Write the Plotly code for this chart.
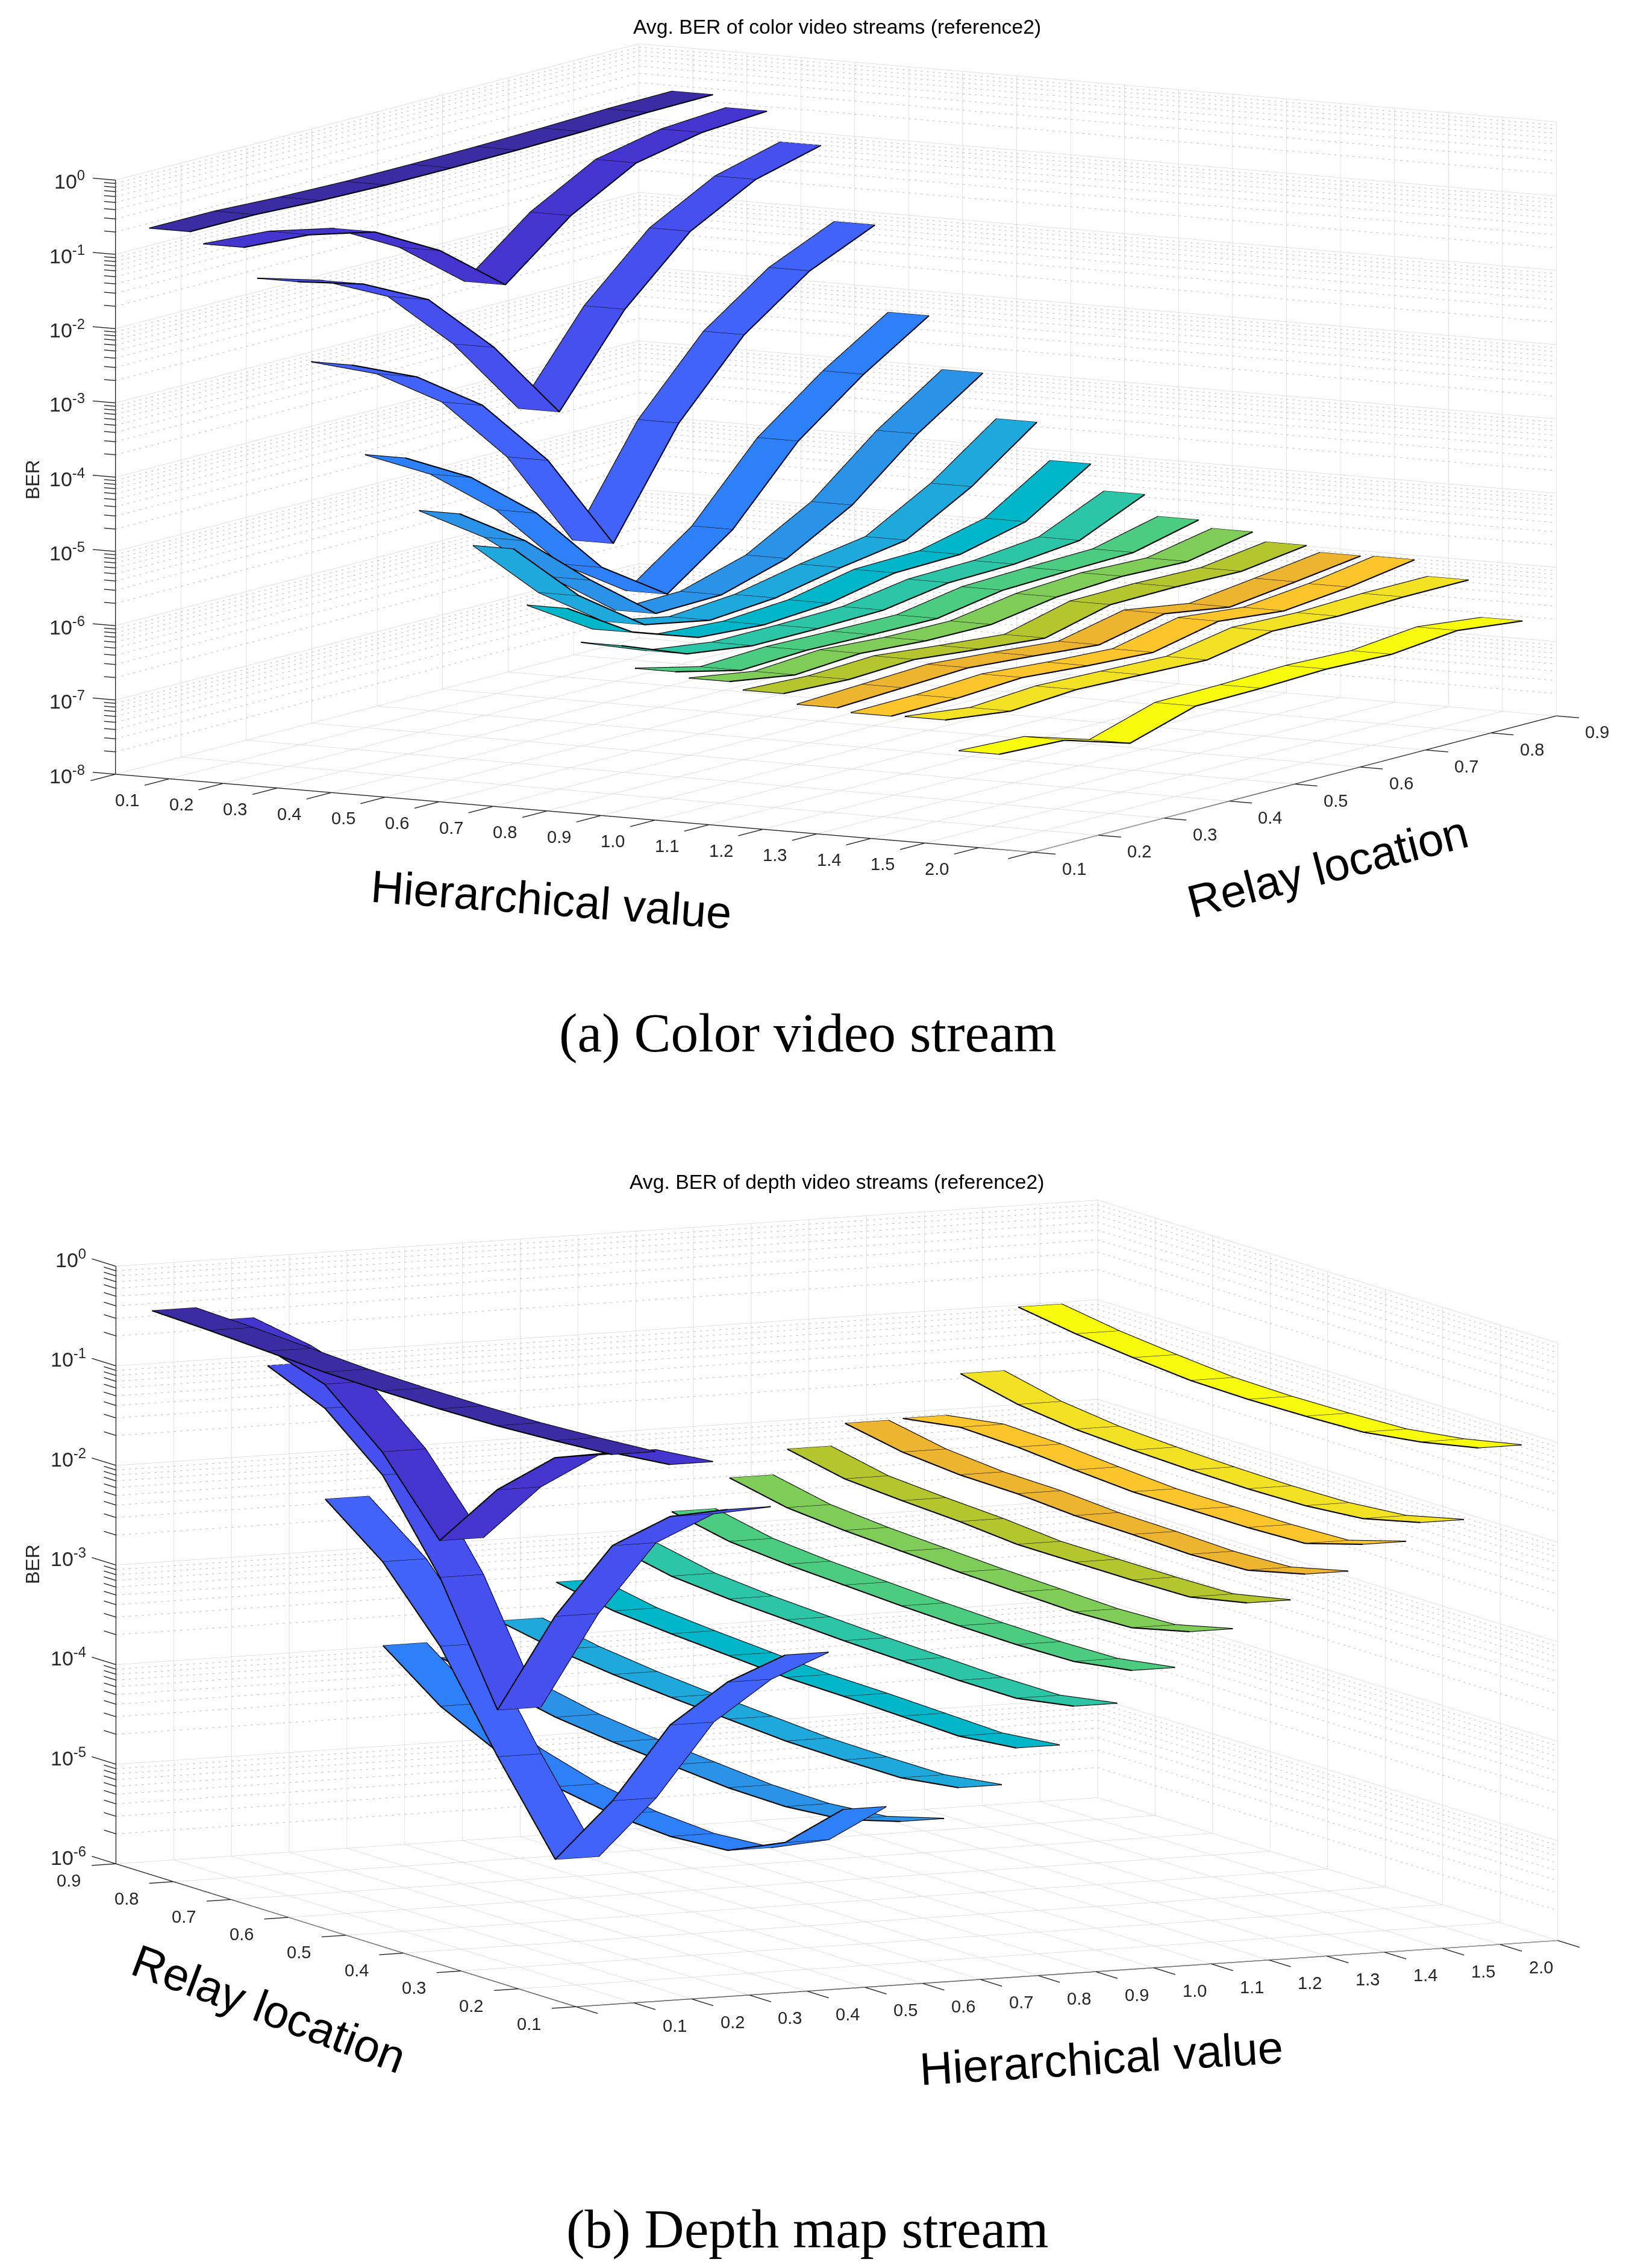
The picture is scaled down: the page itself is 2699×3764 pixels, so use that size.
import plotly.graph_objects as go

W, H = 2699, 3764

# positions on the axes: ribbons sit at 1..16, relay points at 1..9
hier_ticks = list(range(0, 18))
hier_labels = ['', '0.1', '0.2', '0.3', '0.4', '0.5', '0.6', '0.7', '0.8', '0.9', '1.0',
               '1.1', '1.2', '1.3', '1.4', '1.5', '2.0', '']
relay_ticks = [1, 2, 3, 4, 5, 6, 7, 8, 9]
relay_labels = ['0.1', '0.2', '0.3', '0.4', '0.5', '0.6', '0.7', '0.8', '0.9']

ribbon_colors = ['#3b2ca4', '#4535cf', '#4550ef', '#4263fa', '#2e80f8', '#2a93e8', '#1ea8dc', '#00b6c8',
                 '#2cc5a8', '#4ccc80', '#80cc58', '#b5c52e', '#edb42f', '#fcc52c', '#f3e123', '#f9fb0e']

# log10(BER), one row per hierarchical value, relay location 0.1 -> 0.9
color_log_ber = [
    [-0.61, -0.61, -0.65, -0.67, -0.67, -0.66, -0.64, -0.61, -0.60],
    [-0.76, -0.82, -1.01, -1.49, -2.18, -1.48, -1.00, -0.82, -0.76],
    [-1.16, -1.42, -1.86, -2.73, -3.83, -2.68, -1.86, -1.39, -1.16],
    [-2.22, -2.61, -3.22, -4.19, -5.54, -4.15, -3.19, -2.56, -2.17],
    [-3.41, -3.90, -4.61, -5.57, -6.16, -5.52, -4.56, -3.89, -3.33],
    [-4.10, -4.69, -5.45, -6.13, -6.11, -5.85, -5.36, -4.63, -4.04],
    [-4.51, -5.37, -5.99, -6.16, -6.09, -5.91, -5.77, -5.28, -4.64],
    [-5.25, -5.80, -6.10, -6.16, -6.10, -5.92, -5.90, -5.69, -5.14],
    [-5.69, -6.03, -6.15, -6.15, -6.13, -5.99, -5.97, -5.88, -5.49],
    [-5.98, -6.19, -6.15, -6.17, -6.18, -6.03, -6.00, -5.98, -5.77],
    [-6.05, -6.19, -6.13, -6.19, -6.20, -6.06, -6.01, -6.04, -5.87],
    [-6.15, -6.19, -6.15, -6.24, -6.32, -6.10, -6.09, -6.11, -5.99],
    [-6.28, -6.24, -6.20, -6.27, -6.35, -6.16, -6.30, -6.19, -6.07],
    [-6.33, -6.32, -6.27, -6.34, -6.39, -6.20, -6.29, -6.20, -6.06],
    [-6.32, -6.43, -6.37, -6.40, -6.43, -6.27, -6.30, -6.27, -6.27],
    [-6.72, -6.76, -7.03, -6.76, -6.75, -6.72, -6.75, -6.66, -6.76],
]

# log10(BER), one row per hierarchical value, relay location 0.9 -> 0.1
depth_log_ber = [
    [-0.47, -0.49, -0.52, -0.55, -0.56, -0.56, -0.55, -0.52, -0.48],
    [-0.61, -0.71, -0.89, -1.39, -2.10, -1.41, -0.91, -0.68, -0.62],
    [-1.10, -1.35, -1.84, -2.69, -3.84, -2.72, -1.83, -1.36, -1.11],
    [-2.48, -2.93, -3.60, -4.53, -5.38, -4.61, -3.67, -3.06, -2.61],
    [-3.99, -4.42, -4.70, -4.87, -4.97, -5.01, -4.97, -4.71, -4.20],
    [-4.15, -4.27, -4.39, -4.46, -4.51, -4.56, -4.57, -4.52, -4.36],
    [-3.82, -3.93, -4.00, -4.05, -4.09, -4.13, -4.14, -4.14, -4.06],
    [-3.47, -3.58, -3.63, -3.67, -3.71, -3.72, -3.74, -3.76, -3.70],
    [-3.15, -3.27, -3.32, -3.35, -3.38, -3.40, -3.42, -3.42, -3.32],
    [-2.84, -2.96, -3.01, -3.04, -3.07, -3.09, -3.10, -3.09, -3.00],
    [-2.54, -2.66, -2.71, -2.74, -2.77, -2.79, -2.81, -2.79, -2.65],
    [-2.29, -2.41, -2.45, -2.48, -2.53, -2.53, -2.53, -2.52, -2.40],
    [-2.07, -2.18, -2.23, -2.24, -2.28, -2.29, -2.31, -2.29, -2.15],
    [-2.06, -1.97, -1.99, -2.04, -2.08, -2.08, -2.08, -2.06, -1.89],
    [-1.65, -1.78, -1.85, -1.88, -1.90, -1.91, -1.90, -1.85, -1.71],
    [-1.02, -1.11, -1.17, -1.22, -1.23, -1.22, -1.20, -1.12, -1.00],
]

RIBBON_HALF = 0.375
TEXT = '#262626'
EYE_DIST = 6.0
X_DOTS_PER_UNIT = 9
Y_DOTS_PER_UNIT = 11
DOT_FILL = 0.33


def line_trace(scene, segs, color, width):
    xs, ys, zs = [], [], []
    for seg in segs:
        for p in seg:
            xs.append(p[0])
            ys.append(p[1])
            zs.append(p[2])
        xs.append(None)
        ys.append(None)
        zs.append(None)
    return go.Scatter3d(x=xs, y=ys, z=zs, mode='lines', scene=scene, showlegend=False, hoverinfo='skip',
                        line=dict(color=color, width=width))


def dots_along(p0, p1, z):
    # the plotly 3d dash pattern is far too long here, so chop the line into dots
    dx, dy = p1[0] - p0[0], p1[1] - p0[1]
    n = abs(dx) * X_DOTS_PER_UNIT + abs(dy) * Y_DOTS_PER_UNIT
    out = []
    for i in range(n):
        t0, t1 = i / n, (i + DOT_FILL) / n
        out.append([(p0[0] + dx * t0, p0[1] + dy * t0, z), (p0[0] + dx * t1, p0[1] + dy * t1, z)])
    return out


def add_panel(fig, scene, log_ber, zmin, wall_path, wall_x, y_axis_x, z_axis_y, z_tick_dir):
    floor = 10.0 ** zmin
    decades = list(range(zmin, 1))

    # solid grid on the floor and the two back walls
    grid = []
    for t in hier_ticks:
        grid.append([(t, 1, floor), (t, 9, floor)])
        grid.append([(t, 9, floor), (t, 9, 1.0)])
    for t in relay_ticks:
        grid.append([(0, t, floor), (17, t, floor)])
        grid.append([(wall_x, t, floor), (wall_x, t, 1.0)])
    for d in decades:
        grid.append([(p[0], p[1], 10.0 ** d) for p in wall_path])
    fig.add_trace(line_trace(scene, grid, '#d6d6d6', 1.4))

    # dotted minor grid for the log axis
    minor = []
    for d in decades[:-1]:
        for m in range(2, 10):
            minor += dots_along(wall_path[0], wall_path[1], m * 10.0 ** d)
            minor += dots_along(wall_path[1], wall_path[2], m * 10.0 ** d)
    fig.add_trace(line_trace(scene, minor, '#c8c8c8', 2.6))

    # axis lines and tick marks
    axes = [[(0, 1, floor), (17, 1, floor)],
            [(y_axis_x, 1, floor), (y_axis_x, 9, floor)],
            [(0, z_axis_y, floor), (0, z_axis_y, 1.0)]]
    for t in hier_ticks:
        axes.append([(t, 1, floor), (t, 1 - 0.38, floor)])
    y_tick_sign = 1 if y_axis_x == 17 else -1
    for t in relay_ticks:
        axes.append([(y_axis_x, t, floor), (y_axis_x + y_tick_sign * 0.42, t, floor)])
    for d in decades:
        axes.append([(0, z_axis_y, 10.0 ** d),
                     (z_tick_dir[0] * 0.42, z_axis_y + z_tick_dir[1] * 0.42, 10.0 ** d)])
    for d in decades[:-1]:
        for m in range(2, 10):
            axes.append([(0, z_axis_y, m * 10.0 ** d),
                         (z_tick_dir[0] * 0.21, z_axis_y + z_tick_dir[1] * 0.21, m * 10.0 ** d)])
    fig.add_trace(line_trace(scene, axes, TEXT, 2.8))

    # the ribbons themselves
    edges, cross = [], []
    for i, row in enumerate(log_ber):
        k = i + 1
        zvals = [10.0 ** v for v in row]
        fig.add_trace(go.Surface(
            x=[[k - RIBBON_HALF] * 9, [k + RIBBON_HALF] * 9],
            y=[relay_ticks, relay_ticks],
            z=[zvals, zvals],
            scene=scene, showscale=False, hoverinfo='skip',
            colorscale=[[0, ribbon_colors[i]], [1, ribbon_colors[i]]],
            lighting=dict(ambient=1, diffuse=0, specular=0, roughness=1, fresnel=0),
        ))
        edges.append([(k - RIBBON_HALF, r, z) for r, z in zip(relay_ticks, zvals)])
        edges.append([(k + RIBBON_HALF, r, z) for r, z in zip(relay_ticks, zvals)])
        for r, z in zip(relay_ticks, zvals):
            cross.append([(k - RIBBON_HALF, r, z), (k + RIBBON_HALF, r, z)])
    fig.add_trace(line_trace(scene, edges, 'black', 4.2))
    fig.add_trace(line_trace(scene, cross, 'black', 2.2))


def hidden_axis(rng, axis_type='linear'):
    return dict(range=rng, type=axis_type, autorange=False, showgrid=False, zeroline=False, showline=False,
                showticklabels=False, ticks='', showbackground=False, showspikes=False, title=dict(text=''))


def scene_layout(domain_y, domain_x, eye, zmin, aspect, annotations):
    zspan = -zmin
    return dict(
        domain=dict(x=domain_x, y=domain_y),
        xaxis=hidden_axis([-0.6, 17.6]),
        yaxis=hidden_axis([0.5, 9.5]),
        zaxis=hidden_axis([zmin - 0.02, 0.02], 'log'),
        aspectmode='manual',
        aspectratio=dict(x=aspect[0] * 18.2 / 17, y=aspect[1] * 9.0 / 8, z=aspect[2] * (zspan + 0.04) / zspan),
        camera=dict(eye=dict(x=eye[0] * EYE_DIST, y=eye[1] * EYE_DIST, z=eye[2] * EYE_DIST),
                    up=dict(x=0, y=0, z=1), center=dict(x=0, y=0, z=0), projection=dict(type='orthographic')),
        annotations=annotations,
    )


def tick_notes(zmin, y_axis_x, z_axis_y, x_shift, y_shift, z_shift):
    notes = []
    font = dict(family='Liberation Sans', size=29, color=TEXT)
    for t, lab in zip(hier_ticks, hier_labels):
        if lab:
            notes.append(dict(x=t, y=1, z=zmin, text=lab, showarrow=False, font=font,
                              xshift=x_shift[0], yshift=x_shift[1]))
    for t, lab in zip(relay_ticks, relay_labels):
        notes.append(dict(x=y_axis_x, y=t, z=zmin, text=lab, showarrow=False, font=font,
                          xshift=y_shift[0], yshift=y_shift[1]))
    for d in range(zmin, 1):
        notes.append(dict(x=0, y=z_axis_y, z=d, text='10<sup>%d</sup>' % d, showarrow=False, xanchor='right',
                          font=dict(family='Liberation Sans', size=34, color=TEXT),
                          xshift=z_shift[0], yshift=z_shift[1]))
    return notes


fig = go.Figure()

add_panel(fig, 'scene', color_log_ber, -8, [(0, 1), (0, 9), (17, 9)], 0, 17, 1, (-1, 0))
add_panel(fig, 'scene2', [row[::-1] for row in depth_log_ber], -6, [(0, 9), (17, 9), (17, 1)], 17, 0, 9, (0, 1))


def paper_text(text, px, py, size, angle=0, family='Liberation Sans', color='black'):
    return dict(xref='paper', yref='paper', x=px / W, y=1 - py / H, text=text, showarrow=False, textangle=angle,
                xanchor='center', yanchor='middle', font=dict(family=family, size=size, color=color))


fig.update_layout(
    width=W, height=H, margin=dict(l=0, r=0, t=0, b=0), paper_bgcolor='white', showlegend=False, hovermode=False,
    scene=scene_layout([0.6091, 1], [0.0222, 1], (0.4906, -0.8587, 0.1488), -8, (2.3846, 2.381, 1.3557),
                       tick_notes(-8, 17, 1, (-70, -35), (68, -27), (-49, 0))),
    scene2=scene_layout([0.0990, 0.4912], [0.0233, 1], (-0.4179, -0.8970, 0.1447), -6, (2.436, 2.45, 1.358),
                        tick_notes(-6, 0, 9, (68, -38), (-78, -28), (-47, 13))),
    annotations=[
        paper_text('Avg. BER of color video streams (reference2)', 1381, 36, 33.7),
        paper_text('Avg. BER of depth video streams (reference2)', 1381, 1953, 33.7),
        paper_text('BER', 46, 788, 32, -90, color=TEXT),
        paper_text('BER', 46, 2588, 32, -90, color=TEXT),
        paper_text('Hierarchical value', 907, 1485, 75.5, 4.3),
        paper_text('Relay location', 2195, 1430, 76, -14.5),
        paper_text('Relay location', 438, 3325, 76, 20.5),
        paper_text('Hierarchical value', 1820, 3407, 76, -3.5),
        paper_text('(a) Color video stream', 1333, 1706, 91.5, family='Liberation Serif'),
        paper_text('(b) Depth map stream', 1332, 3691, 91.5, family='Liberation Serif'),
    ],
)

fig.write_html("out.html")
